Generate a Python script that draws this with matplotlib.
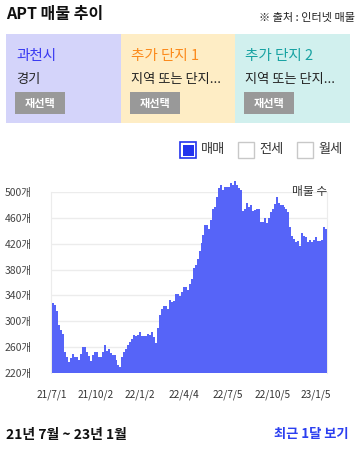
import matplotlib.pyplot as plt
import matplotlib.patches as mpatches
import pandas as pd

plt.rcParams['font.family'] = ['Noto Sans CJK KR', 'DejaVu Sans']

# weekly-ish listing counts (one bar per ~4 days)
listings = [
    329, 325, 316, 294, 287, 280, 253, 245, 237, 243, 250, 245, 245, 241, 250,
    260, 260, 253, 247, 239, 248, 253, 253, 245, 245, 253, 263, 254, 257, 252,
    248, 248, 240, 233, 230,
    245, 253, 258, 263, 268, 273, 279, 278, 279, 284, 277, 277, 277, 281, 279,
    283, 276, 267, 290, 310, 319, 324, 324, 319, 333, 330, 331, 342, 342, 339,
    346, 353, 353, 348, 357,
    366, 382, 387, 396, 409, 421, 433, 448, 448, 443, 457, 474, 477, 492, 505,
    510, 503, 507, 507, 507, 513, 511, 517, 511, 505, 502, 470, 474, 483, 476,
    480, 471, 472, 473, 473,
    454, 454, 460, 452, 459, 468, 473, 481, 492, 483, 479, 479, 477, 473, 468,
    446, 431, 427, 422, 424, 417, 437, 431, 430, 423, 426, 422, 425, 430, 424,
    424, 425, 445, 443,
]
dates = pd.date_range('2021-07-03', periods=len(listings), freq='99h')

y_ticks = [220, 260, 300, 340, 380, 420, 460, 500]
x_tick_dates = ['2021-07-01', '2021-10-02', '2022-01-02', '2022-04-04',
                '2022-07-05', '2022-10-05', '2023-01-05']
x_tick_labels = ['21/7/1', '21/10/2', '22/1/2', '22/4/4', '22/7/5', '22/10/5', '23/1/5']

panel_titles = ['과천시', '추가 단지 1', '추가 단지 2']
panel_subs = ['경기', '지역 또는 단지...', '지역 또는 단지...']
panel_colors = ['#d4d4fa', '#feedc5', '#d1f0ee']
title_colors = ['#3a3af2', '#fb8a1c', '#18a2a2']
legend_items = ['매매', '전세', '월세']

W, H = 360, 450
fig = plt.figure(figsize=(W / 100, H / 100), dpi=100)

# overlay in pixel coordinates for the page furniture
bg = fig.add_axes([0, 0, 1, 1])
bg.set_xlim(0, W)
bg.set_ylim(H, 0)
bg.axis('off')

bg.text(6, 14, 'APT 매물 추이', fontsize=11.5, fontweight='bold', va='center', color='#111')
bg.text(355, 18, '※ 출처 : 인터넷 매물', fontsize=8, ha='right', va='center', color='#222')

panel_x = [6, 121, 235]
panel_w = [115, 114, 115]
for px, pw, t, s, c, tc in zip(panel_x, panel_w, panel_titles, panel_subs,
                                panel_colors, title_colors):
    bg.add_patch(mpatches.Rectangle((px, 34), pw, 89, color=c, lw=0))
    bg.text(px + 10, 56, t, fontsize=10.5, fontweight='medium', color=tc, va='center')
    bg.text(px + 10, 80, s, fontsize=9.5, color='#222', va='center')
    bg.add_patch(mpatches.Rectangle((px + 9, 92), 50, 22, color='#999999', lw=0))
    bg.text(px + 34, 103, '재선택', fontsize=8, fontweight='bold', color='white',
            ha='center', va='center')

# legend checkboxes
for i, (bx, lab) in enumerate(zip([180, 238, 297], legend_items)):
    if i == 0:
        bg.add_patch(mpatches.Rectangle((bx, 142), 16, 16, fc='white', ec='#2233ee', lw=1.2))
        bg.add_patch(mpatches.Rectangle((bx + 2.5, 144.5), 11, 11, color='#2233ee', lw=0))
    else:
        bg.add_patch(mpatches.Rectangle((bx, 142), 16, 16, fc='white', ec='#c8c8c8', lw=1))
    bg.text(bx + 21, 150, lab, fontsize=9.5, color='#333', va='center')

bg.text(6, 435, '21년 7월 ~ 23년 1월', fontsize=10, fontweight='bold', va='center', color='#111')
bg.text(349, 434, '최근 1달 보기', fontsize=9.5, fontweight='bold', ha='right',
        va='center', color='#2b3ff0')

# chart area
left, right, top, bottom = 51.3, 327, 191.7, 373.3
ax = fig.add_axes([left / W, 1 - bottom / H, (right - left) / W, (bottom - top) / H])
step = dates[1] - dates[0]
ax.bar(dates, [v - 220 for v in listings], bottom=220, width=step, align='edge',
       color='#5664f8', lw=0, clip_on=False, zorder=3)
ax.set_xlim(dates[0], dates[-1] + step)
ax.set_ylim(220, 500)
ax.set_yticks(y_ticks)
ax.set_yticklabels([f'{v}개' for v in y_ticks], fontsize=7.5, color='#444')
ax.set_xticks(pd.to_datetime(x_tick_dates))
ax.set_xticklabels(x_tick_labels, fontsize=7.3, color='#333')
ax.tick_params(length=0, pad=12)
ax.tick_params(axis='y', pad=14)
for y in y_ticks[1:]:
    ax.axhline(y, color='#ececec', lw=1, zorder=1)
for side in ['top', 'bottom']:
    ax.spines[side].set_visible(False)
for side in ['left', 'right']:
    ax.spines[side].set_color('#ececec')
ax.set_facecolor('none')
ax.text(1.0, 1.0, '매물 수', transform=ax.transAxes, fontsize=8.5, ha='right',
        va='center', color='#333', zorder=4)

fig.savefig('out.png', dpi=100)
